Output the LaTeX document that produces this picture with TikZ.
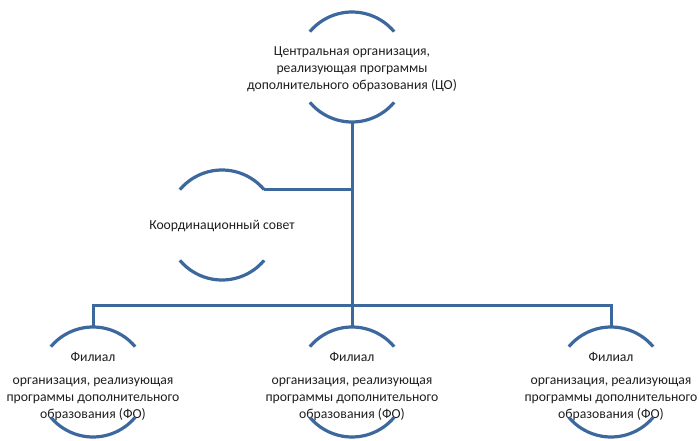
\documentclass[tikz,border=0pt]{standalone}
\usepackage{fontspec}
\setmainfont{Carlito}
\usepackage{tikz}
\usetikzlibrary{positioning}
\definecolor{linkblue}{RGB}{60,104,158}
\definecolor{textgray}{RGB}{30,30,30}
\tikzset{%
  every unit/.style={
    circle,
    draw=none,
    inner sep=0pt,
    outer sep=0pt,
    minimum size=110pt
  },
  unit text/.style={
    align=center,
    text=textgray,
    font=\fontsize{13.7}{17}\selectfont
  },
  half ring/.style={
    draw=linkblue,
    line width=3.2pt
  },
  link/.style={
    draw=linkblue,
    line width=3pt
  },
}
\newcommand{\ringarcs}[1]{%
  \draw[half ring] (#1.40) arc[start angle=40, end angle=140, radius=55pt];
  \draw[half ring] (#1.-40) arc[start angle=-40, end angle=-140, radius=55pt];
}

\begin{document}
\begin{tikzpicture}[x=1pt, y=1pt]
\useasboundingbox (0,0) rectangle (699,440);
    \node[every unit] (co) at (352,373) {};
    \node[every unit] (ks) at (222,215) {};
    \foreach \i/\x in {1/93,2/352,3/611}
        \node[every unit] (f\i) at (\x,58) {};

    \node[unit text, yshift=-2pt] (co_text) at (co)
        {Центральная организация,\\реализующая программы\\дополнительного образования (ЦО)};
    \node[unit text, yshift=-1pt] (ks_text) at (ks) {Координационный совет};
    \foreach \i in {1,2,3}
        \node[unit text, yshift=-4.5pt] (f\i_text) at (f\i)
            {Филиал\\[6pt]организация, реализующая\\программы дополнительного\\образования (ФО)};

    \ringarcs{co}
    \ringarcs{ks}
    \foreach \i in {1,2,3}{
        \ringarcs{f\i}
    }

    \draw[link] (co.south) -- (f2.north);
    \draw[link] (ks.40) -- (ks.40 -| co.south);
    \draw[link] (f1.north) -- ++(0,22) -| (f3.north);
\end{tikzpicture}
\end{document}
